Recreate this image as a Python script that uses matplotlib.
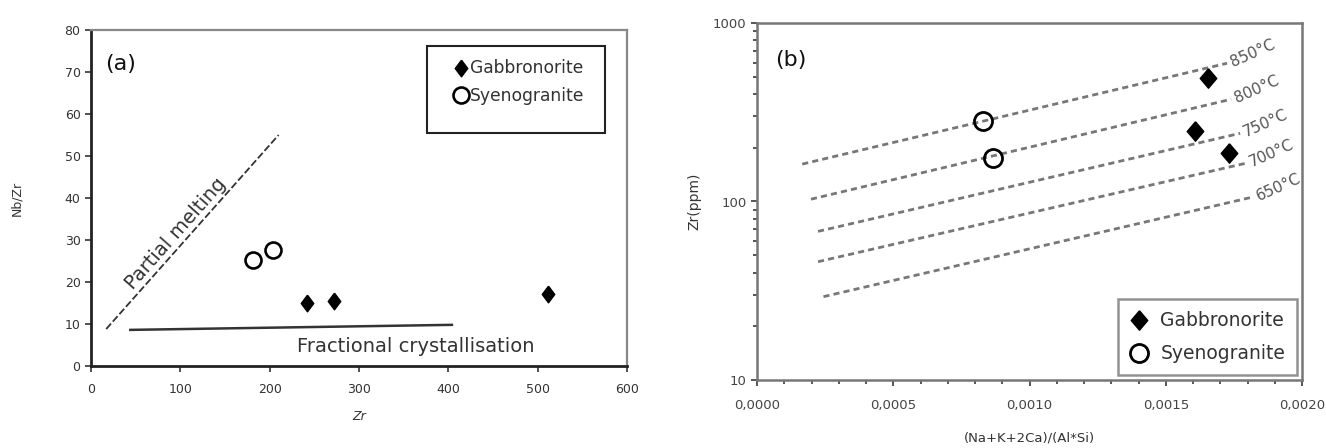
import numpy as np
import matplotlib
matplotlib.use('Agg')
import matplotlib.pyplot as plt
from matplotlib.ticker import MultipleLocator, FuncFormatter, LogLocator, NullFormatter
from matplotlib.patches import Rectangle

# --- panel (a): Nb/Zr vs Zr ---
gab_zr = [242, 272, 512]
gab_nbzr = [15.0, 15.5, 17.1]
sye_zr = [181, 204]
sye_nbzr = [25.2, 27.6]
melt_x = [17, 210]
melt_y = [8.8, 55]
frac_x = [44, 404]
frac_y = [8.6, 9.8]

# --- panel (b): Zr vs (Na+K+2Ca)/(Al*Si) ---
gab_m = [0.001655, 0.001607, 0.001732]
gab_zr_b = [492, 248, 187]
sye_m = [0.000829, 0.000866]
sye_zr_b = [282, 175]
iso_labels = ['850°C', '800°C', '750°C', '700°C', '650°C']
iso_x0 = [0.000166, 0.000198, 0.000224, 0.000224, 0.000244]
iso_x1 = [0.001725, 0.00174, 0.001773, 0.001795, 0.00182]
iso_y0 = [162, 103, 68, 46, 29.3]
iso_y1 = [595, 374, 241, 164, 106]

plt.rcParams['font.family'] = ['DejaVu Sans']

# diamond shapes (taller than wide)
diam_a = [(0, 1), (0.75, 0), (0, -1), (-0.75, 0), (0, 1)]
diam_b = [(0, 1), (0.85, 0), (0, -1), (-0.85, 0), (0, 1)]

fig = plt.figure(figsize=(13.26, 4.48), dpi=100)
W, H = 1326, 448
ax1 = fig.add_axes([91 / W, (H - 366) / H, 536 / W, 336 / H])
ax2 = fig.add_axes([757 / W, (H - 380) / H, 545 / W, 357 / H])

# ---------- panel (a) ----------
ax1.plot(melt_x, melt_y, color='#333333', lw=1.3, dashes=(4, 1.5))
ax1.plot(frac_x, frac_y, color='#333333', lw=1.8)
g1, = ax1.plot(gab_zr, gab_nbzr, ls='none', marker=diam_a, ms=12,
               color='black', label='Gabbronorite')
s1, = ax1.plot(sye_zr, sye_nbzr, ls='none', marker='o', ms=11.5,
               mfc='white', mec='black', mew=1.9, label='Syenogranite')

ax1.text(95, 31.5, 'Partial melting', rotation=48.5, rotation_mode='anchor',
         ha='center', va='center', fontsize=14, color='#333333')
ax1.text(363, 4.6, 'Fractional crystallisation', ha='center', va='center',
         fontsize=14, color='#333333')
ax1.text(0.026, 0.90, '(a)', transform=ax1.transAxes, fontsize=16,
         va='center', ha='left', color='#111111')

ax1.set_xlim(0, 600)
ax1.set_ylim(0, 80)
ax1.xaxis.set_major_locator(MultipleLocator(100))
ax1.yaxis.set_major_locator(MultipleLocator(10))
ax1.tick_params(direction='out', length=4, width=1.2, labelsize=9,
                labelcolor='#333333', color='#333333')
ax1.tick_params(axis='x', pad=8)
for side in ['left', 'bottom']:
    ax1.spines[side].set_color('#222222')
    ax1.spines[side].set_linewidth(2)
for side in ['top', 'right']:
    ax1.spines[side].set_color('#888888')
    ax1.spines[side].set_linewidth(1.6)
ax1.set_xlabel('Zr', fontsize=9, style='italic', color='#333333', labelpad=10)
ax1.set_ylabel('Nb/Zr', fontsize=9, color='#333333', labelpad=30)

leg1 = ax1.legend(handles=[g1, s1], loc='upper left',
                  bbox_to_anchor=(0.648, 0.958), frameon=False, fontsize=12.3,
                  handlelength=0.8, handletextpad=0.15, labelspacing=0.55,
                  borderpad=0.4)
for t in leg1.get_texts():
    t.set_color('#333333')
ax1.add_patch(Rectangle((0.627, 0.693), 0.332, 0.259, transform=ax1.transAxes,
                        fill=False, ec='#222222', lw=1.5, zorder=5))

# ---------- panel (b) ----------
for lab, x0, x1, y0, y1 in zip(iso_labels, iso_x0, iso_x1, iso_y0, iso_y1):
    ax2.plot([x0, x1], [y0, y1], color='#777777', lw=2.0, dashes=(2.2, 1.5))
    ax2.annotate(lab, xy=(x1, y1), xytext=(3, 0), textcoords='offset points',
                 rotation=24, rotation_mode='anchor', ha='left', va='center',
                 fontsize=11, color='#555555')

g2, = ax2.plot(gab_m, gab_zr_b, ls='none', marker=diam_b, ms=14,
               color='black', label='Gabbronorite', zorder=4)
s2, = ax2.plot(sye_m, sye_zr_b, ls='none', marker='o', ms=13,
               mfc='none', mec='black', mew=2.0, label='Syenogranite', zorder=4)

ax2.text(0.033, 0.896, '(b)', transform=ax2.transAxes, fontsize=16,
         va='center', ha='left', color='#111111')

ax2.set_yscale('log')
ax2.set_xlim(0, 0.002)
ax2.set_ylim(10, 1000)
ax2.xaxis.set_major_locator(MultipleLocator(0.0005))
ax2.xaxis.set_minor_locator(MultipleLocator(0.0001))
ax2.xaxis.set_major_formatter(FuncFormatter(lambda v, p: f'{v:.4f}'.replace('.', ',')))
ax2.yaxis.set_major_locator(LogLocator(base=10))
ax2.yaxis.set_major_formatter(FuncFormatter(lambda v, p: f'{v:g}'))
ax2.yaxis.set_minor_locator(LogLocator(base=10, subs=np.arange(2, 10)))
ax2.yaxis.set_minor_formatter(NullFormatter())
ax2.tick_params(which='both', direction='out', color='#555555', width=1.4)
ax2.tick_params(which='major', length=4, labelsize=9.5, labelcolor='#444444')
ax2.tick_params(which='minor', length=3)
ax2.tick_params(axis='x', pad=10)
for side in ax2.spines:
    ax2.spines[side].set_color('#777777')
    ax2.spines[side].set_linewidth(1.8)
ax2.set_xlabel('(Na+K+2Ca)/(Al*Si)', fontsize=9.5, color='#333333', labelpad=14)
ax2.set_ylabel('Zr(ppm)', fontsize=10, color='#333333', labelpad=8)

leg2 = ax2.legend(handles=[g2, s2], loc='lower right', fontsize=13.5,
                  frameon=True, fancybox=False, edgecolor='#777777',
                  handlelength=0.9, handletextpad=0.7, labelspacing=0.75,
                  borderpad=0.65, borderaxespad=0.25)
leg2.get_frame().set_linewidth(1.8)
for t in leg2.get_texts():
    t.set_color('#333333')

fig.savefig('out.png', dpi=100)
